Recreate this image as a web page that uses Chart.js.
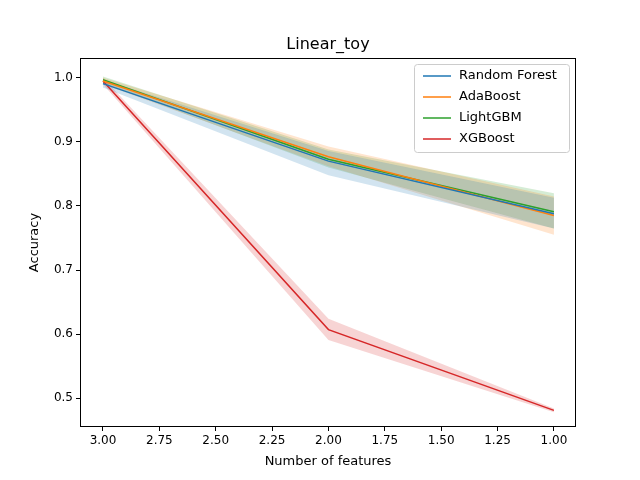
<!DOCTYPE html>
<html><head><script src="https://cdn.jsdelivr.net/npm/chart.js"></script>
<style>body{margin:0;background:#fff}#w{width:640px;height:480px}</style></head>
<body><div id="w"><canvas id="c" width="640" height="480"></canvas></div>
<script>
const features=[3,2,1];
const names=['Random Forest','AdaBoost','LightGBM','XGBoost'];
const colors=['#1f77b4','#ff7f0e','#2ca02c','#d62728'];
const rfMean=[0.991,0.870,0.788], rfLo=[0.985,0.848,0.765], rfHi=[0.997,0.886,0.813];
const adaMean=[0.995,0.877,0.785], adaLo=[0.990,0.862,0.755], adaHi=[1.000,0.893,0.815];
const lgbMean=[0.997,0.873,0.791], lgbLo=[0.992,0.860,0.765], lgbHi=[1.002,0.888,0.820];
const xgbMean=[0.995,0.607,0.481], xgbLo=[0.990,0.591,0.478], xgbHi=[1.000,0.624,0.484];
const series=[[rfMean,rfLo,rfHi],[adaMean,adaLo,adaHi],[lgbMean,lgbLo,lgbHi],[xgbMean,xgbLo,xgbHi]];
function pts(a){return features.map((f,i)=>({x:f,y:a[i]}));}
function rgba(h,a){const n=parseInt(h.slice(1),16);return `rgba(${n>>16},${(n>>8)&255},${n&255},${a})`;}
const ds=[];
series.forEach((s,k)=>{
  ds.push({data:pts(s[1]),borderWidth:0,pointRadius:0,fill:false,order:10});
  ds.push({data:pts(s[2]),borderWidth:0,pointRadius:0,fill:'-1',backgroundColor:rgba(colors[k],0.2),order:10});
});
series.forEach((s,k)=>{
  ds.push({data:pts(s[0]),borderColor:colors[k],borderWidth:1.5,pointRadius:0,fill:false,order:1});
});
const font={family:'DejaVu Sans',size:13};
const deco={id:'deco',afterDraw(c){
  const g=c.ctx,a=c.chartArea;
  g.save();g.strokeStyle='#000';g.lineWidth=1;
  g.strokeRect(a.left+0.5,a.top+0.5,a.right-a.left-1,a.bottom-a.top-1);
  g.fillStyle='#000';g.font='16px DejaVu Sans';g.textAlign='center';g.textBaseline='alphabetic';
  g.fillText('Linear_toy',(a.left+a.right)/2,49);
  g.font='13px DejaVu Sans';g.textBaseline='middle';
  g.fillText('Number of features',(a.left+a.right)/2,462);
  g.save();g.translate(35,(a.top+a.bottom)/2);g.rotate(-Math.PI/2);g.fillText('Accuracy',0,0);g.restore();
  // legend
  const lx=414,ly=64,lw=155,lh=88;
  g.fillStyle='rgba(255,255,255,0.8)';g.strokeStyle='#ccc';
  g.beginPath();g.roundRect(lx+0.5,ly+0.5,lw,lh,3);g.fill();g.stroke();
  g.font='13px DejaVu Sans';g.textAlign='left';g.textBaseline='middle';
  names.forEach((n,i)=>{const y=ly+12+i*21;
    g.strokeStyle=colors[i];g.lineWidth=1.5;g.beginPath();g.moveTo(lx+9,y);g.lineTo(lx+37,y);g.stroke();
    g.fillStyle='#000';g.fillText(n,lx+45,y);});
  g.restore();}};
new Chart(document.getElementById('c'),{type:'line',data:{datasets:ds},plugins:[deco],
options:{responsive:false,animation:false,
 layout:{padding:{top:58,right:64,left:0,bottom:0}},
 plugins:{legend:{display:false},title:{display:false},tooltip:{enabled:false}},
 scales:{
  x:{type:'linear',reverse:true,min:0.902,max:3.102,
    afterFit(s){s.height=53;},
    afterBuildTicks(s){s.ticks=[3,2.75,2.5,2.25,2,1.75,1.5,1.25,1].map(v=>({value:v}));},
    ticks:{color:'#000',font:{...font,size:12},padding:3,maxRotation:0,callback:v=>Number(v).toFixed(2)},
    grid:{drawOnChartArea:false,tickLength:4,color:'#000'},border:{display:false}},
  y:{min:0.455,max:1.031,
    afterFit(s){s.width=80;},
    afterBuildTicks(s){s.ticks=[0.5,0.6,0.7,0.8,0.9,1.0].map(v=>({value:v}));},
    ticks:{color:'#000',font:{...font,size:12},padding:3,callback:v=>Number(v).toFixed(1)},
    grid:{drawOnChartArea:false,tickLength:4,color:'#000'},border:{display:false}}
 }}});
</script></body></html>
